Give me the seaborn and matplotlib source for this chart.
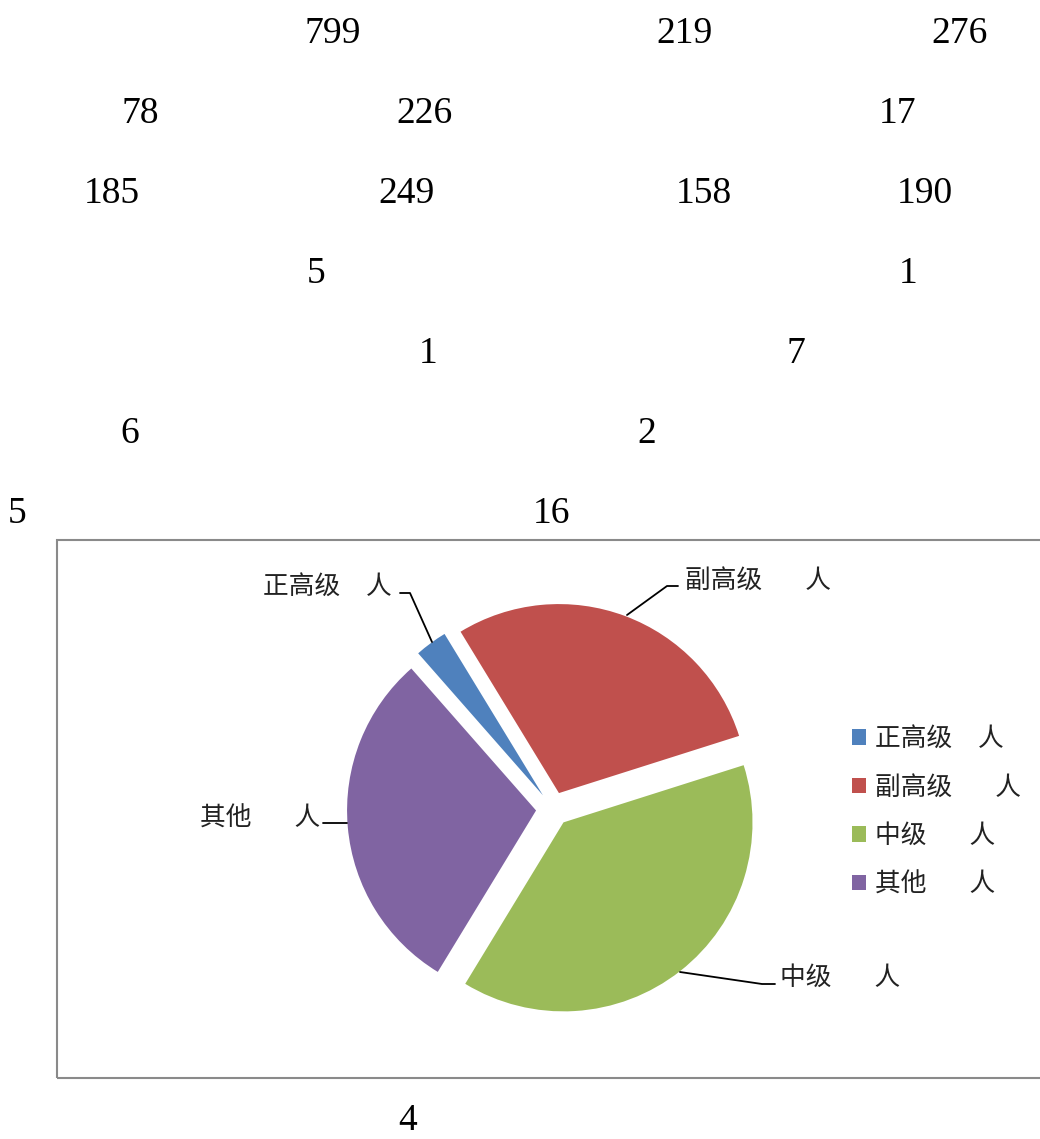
import matplotlib
matplotlib.use("Agg")
import matplotlib.pyplot as plt
import seaborn as sns
from matplotlib.patches import Rectangle

sns.set_theme(style="white")
plt.rcParams['font.family'] = ['Noto Sans CJK SC', 'DejaVu Sans']

# pie data
categories = ["正高级", "副高级", "中级", "其他"]
values = [22, 230, 308, 238]
labels = ["正高级\u3000人", "副高级\u3000   人", "中级\u3000   人", "其他\u3000   人"]
colors = ["#4F81BD", "#C0504D", "#9BBB59", "#8064A2"]

# stray numbers in the page text above/below the chart
page_numbers = ["799", "219", "276", "78", "226", "17", "185", "249", "158", "190",
                "5", "1", "1", "7", "6", "2", "5", "16", "4"]
number_xy = [(333, 34), (684, 34), (960, 34), (140, 114), (425, 114), (898, 114),
             (112, 194), (407, 194), (704, 194), (925, 194), (316, 274), (908, 274),
             (428, 354), (796, 354), (130, 434), (647, 434), (17, 514), (551, 514),
             (408, 1121)]

W, H = 1040, 1139
fig = plt.figure(figsize=(W / 100, H / 100), dpi=100)
ax = fig.add_axes([0, 0, 1, 1])

def Y(y):
    return H - y

wedges, _ = ax.pie(values, colors=colors, startangle=131.3, counterclock=False,
                   center=(553, Y(809)), radius=189, explode=[17] * 4,
                   wedgeprops=dict(linewidth=0))
ax.set_xlim(0, W)
ax.set_ylim(0, H)
ax.set_aspect("equal")
ax.axis("off")

# chart frame
ax.add_patch(Rectangle((57, Y(1078)), W, 538, fill=False, edgecolor="#8a8a8a",
                       linewidth=1.5, clip_on=False))

# data labels with leader lines
label_pos = [(263, 587), (685, 581), (780, 978), (200, 819)]
leaders = [
    [(400, 593), (410, 593), (432, 642)],
    [(678, 586), (667, 586), (627, 615)],
    [(775, 984), (762, 984), (680, 972)],
    [(323, 823), (347, 823)],
]
for lab, (lx, ly), pts in zip(labels, label_pos, leaders):
    ax.text(lx, Y(ly), lab, fontsize=18.5, color="#222222", ha="left", va="center",
            fontweight="light")
    ax.plot([p[0] for p in pts], [Y(p[1]) for p in pts], color="black", lw=1.3)

leg = ax.legend(wedges, labels, loc="upper left", bbox_to_anchor=(852, Y(726)),
                bbox_transform=ax.transData, frameon=False,
                prop=dict(family=['Noto Sans CJK SC', 'DejaVu Sans'], size=18.5,
                          weight="light"),
                handlelength=0.55, handleheight=0.55, handletextpad=0.35,
                labelspacing=0.88, borderpad=0, borderaxespad=0)
for t in leg.get_texts():
    t.set_color("#222222")

for s, (x, y) in zip(page_numbers, number_xy):
    ax.text(x, Y(y), s, fontsize=27, family="Liberation Serif", ha="center", va="center",
            color="black")

fig.savefig("out.png", dpi=100)
